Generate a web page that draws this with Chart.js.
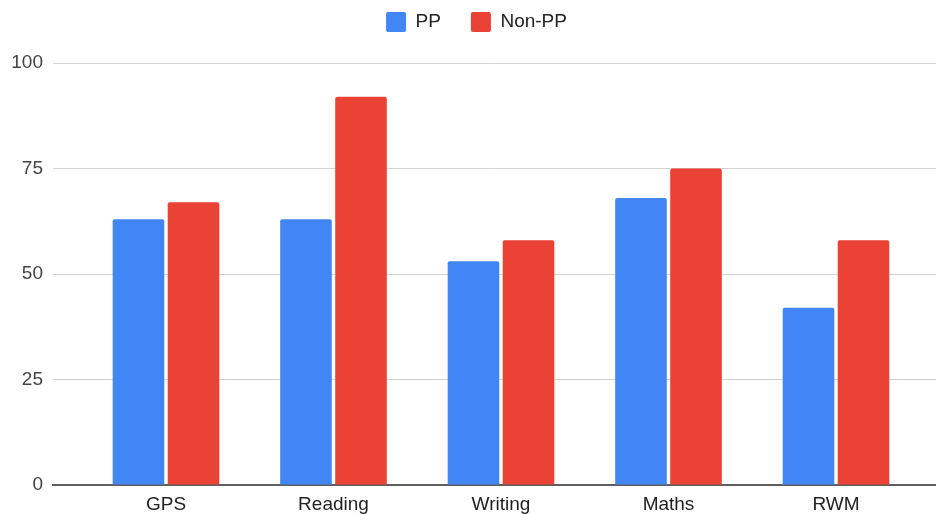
<!DOCTYPE html>
<html>
<head>
<meta charset="utf-8">
<script src="https://cdn.jsdelivr.net/npm/chart.js@4/dist/chart.umd.min.js"></script>
<style>
  html, body { margin: 0; padding: 0; background: #ffffff; }
  #wrap { width: 936px; height: 514px; position: relative; }
</style>
</head>
<body>
<div id="wrap"><canvas id="chart"></canvas></div>
<script>
// Attainment by subject (%)
const categories = ['GPS', 'Reading', 'Writing', 'Maths', 'RWM'];
const ppValues = [63, 63, 53, 68, 42];
const nonPpValues = [67, 92, 58, 75, 58];
const yTicks = [0, 25, 50, 75, 100];

const FONT = "'Liberation Sans', Arial, sans-serif";

// bars sit on a linear x scale so the plot can extend past the outer groups
const toPoints = vals => vals.map((v, i) => ({ x: i, y: v }));

const barStyle = {
  borderWidth: 0,
  borderRadius: { topLeft: 2, topRight: 2, bottomLeft: 0, bottomRight: 0 },
  borderSkipped: 'start',
  categoryPercentage: 0.657,
  barPercentage: 0.938
};

new Chart(document.getElementById('chart'), {
  type: 'bar',
  data: {
    datasets: [
      Object.assign({ label: 'PP', data: toPoints(ppValues), backgroundColor: '#4285F4' }, barStyle),
      Object.assign({ label: 'Non-PP', data: toPoints(nonPpValues), backgroundColor: '#EA4335' }, barStyle)
    ]
  },
  options: {
    responsive: true,
    maintainAspectRatio: false,
    animation: false,
    layout: { padding: { top: -18, left: 0, right: -17, bottom: 0 } },
    plugins: {
      tooltip: { enabled: false },
      legend: {
        position: 'top',
        align: 'center',
        labels: {
          font: { family: FONT, size: 19 },
          color: '#222222',
          boxWidth: 20,
          boxHeight: 20,
          useBorderRadius: true,
          borderRadius: 2,
          padding: 30
        }
      }
    },
    scales: {
      x: {
        type: 'linear',
        min: -0.6746,
        max: 4.597,
        offset: false,
        grid: { display: false, drawTicks: false },
        border: { display: true, color: '#5f5f5f', width: 2 },
        afterBuildTicks: scale => { scale.ticks = categories.map((_, i) => ({ value: i })); },
        afterFit: scale => { scale.height = 29; },
        ticks: {
          autoSkip: false,
          maxRotation: 0,
          padding: 8,
          color: '#222222',
          font: { family: FONT, size: 19 },
          callback: v => categories[v]
        }
      },
      y: {
        min: 0,
        max: 104.98,
        grid: { color: '#d3d3d3', lineWidth: 1, drawTicks: false },
        border: { display: false },
        afterBuildTicks: scale => { scale.ticks = yTicks.map(v => ({ value: v })); },
        afterFit: scale => { scale.width = 53; },
        ticks: {
          padding: 10,
          color: '#444444',
          font: { family: FONT, size: 19 }
        }
      }
    }
  }
});
</script>
</body>
</html>
